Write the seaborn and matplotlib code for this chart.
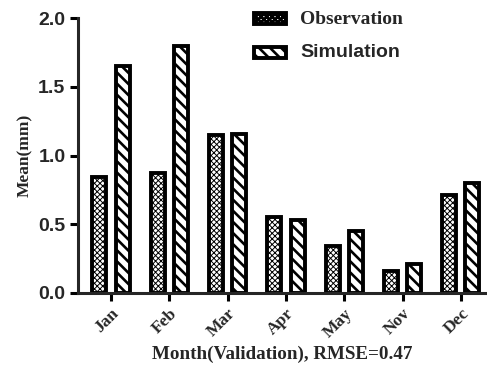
import matplotlib
matplotlib.use("Agg")
import matplotlib.pyplot as plt
import seaborn as sns
import pandas as pd

months = ["Jan", "Feb", "Mar", "Apr", "May", "Nov", "Dec"]
observation = [0.84, 0.87, 1.15, 0.55, 0.34, 0.16, 0.71]
simulation = [1.65, 1.80, 1.16, 0.53, 0.45, 0.21, 0.80]
series = ["Observation", "Simulation"]

df = pd.DataFrame({
    "Month": months * 2,
    "Mean": observation + simulation,
    "Series": [series[0]] * len(months) + [series[1]] * len(months),
})

sns.set_style("ticks")
plt.rcParams["hatch.linewidth"] = 1.9

fig = plt.figure(figsize=(4.87, 3.77), dpi=100)
ax = fig.add_axes([0.160, 0.223, 0.84, 0.729])

sns.barplot(data=df, x="Month", y="Mean", hue="Series", order=months,
            hue_order=series, palette=["white", "white"], gap=0.4,
            edgecolor="black", linewidth=2.8, ax=ax, legend=False)

obs_hatch = "xxxxxx"
sim_hatch = "\\\\\\"
obs_face = "white"
hatches = {"Observation": obs_hatch, "Simulation": sim_hatch}
n = len(months)


def style(patch, s):
    patch.set_hatch(hatches[s])
    if s == "Observation":
        patch.set_facecolor(obs_face)
        if hasattr(patch, "set_hatch_linewidth"):
            patch.set_hatch_linewidth(0.7)


for i, patch in enumerate(ax.patches[:2 * n]):
    style(patch, series[i // n])

from matplotlib.patches import Patch
handles = [
    Patch(facecolor=obs_face, edgecolor="black", linewidth=2.8),
    Patch(facecolor="white", edgecolor="black", linewidth=2.8),
]
for h, s in zip(handles, series):
    style(h, s)
leg = fig.legend(handles, series, loc="upper left", bbox_to_anchor=(0.522, 0.972),
                 frameon=False, handlelength=2.3, handleheight=0.85,
                 labelspacing=1.2, handletextpad=1.0, borderpad=0, borderaxespad=0)
leg.get_texts()[0].set_fontfamily("Liberation Serif")
leg.get_texts()[0].set_fontweight("bold")
leg.get_texts()[0].set_fontsize(14)
leg.get_texts()[1].set_fontfamily("Liberation Sans")
leg.get_texts()[1].set_fontweight("bold")
leg.get_texts()[1].set_fontsize(14)

ax.set_ylim(0, 2.0)
ax.set_xlim(-0.57, 6.45)
ax.set_yticks([0.0, 0.5, 1.0, 1.5, 2.0])
ax.set_yticklabels(["0.0", "0.5", "1.0", "1.5", "2.0"],
                   fontfamily="Liberation Sans", fontweight="bold", fontsize=14)
ax.set_xticks(range(n))
ax.set_xticklabels(months, rotation=45, ha="right", rotation_mode="anchor",
                   fontfamily="Liberation Serif", fontweight="bold", fontsize=12.5)

ax.set_ylabel("Mean(mm)", fontfamily="Liberation Serif", fontweight="bold", fontsize=12.5,
              labelpad=4)
ax.set_xlabel("Month(Validation), RMSE=0.47", fontfamily="Liberation Serif",
              fontweight="bold", fontsize=13.7, labelpad=4)

for sp in ["top", "right"]:
    ax.spines[sp].set_visible(False)
for sp in ["left", "bottom"]:
    ax.spines[sp].set_linewidth(2.2)
ax.tick_params(axis="both", width=2.2, length=6, color="black", pad=3)

fig.savefig("out.png", dpi=100)
